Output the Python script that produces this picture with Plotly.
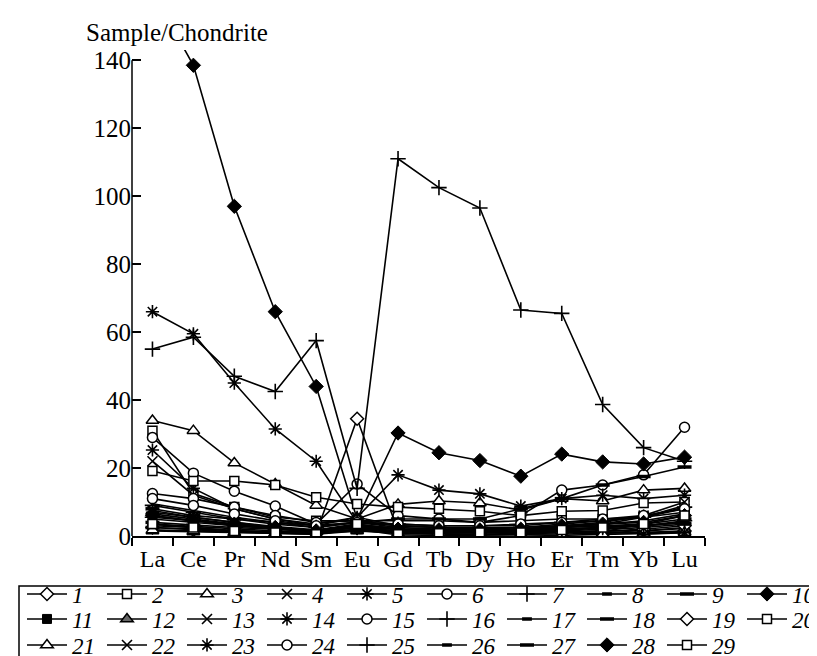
import plotly.graph_objects as go

elements = ["La", "Ce", "Pr", "Nd", "Sm", "Eu", "Gd", "Tb", "Dy", "Ho", "Er", "Tm", "Yb", "Lu"]

s1 = [2.5, 1.8, 1.2, 1.0, 0.8, 34.5, 1.5, 1.2, 1.0, 1.2, 1.0, 1.2, 1.0, 1.5]
s2 = [31, 12.5, 8.5, 5.5, 4.5, 4.5, 4.5, 4.5, 4.0, 4.5, 5.0, 5.0, 5.5, 7.0]
s3 = [34, 31, 21.5, 15.3, 9, 5, 9.3, 10.3, 9.7, 7.6, 11, 10.3, 13.5, 14]
s4 = [22, 12, 8, 5, 3.5, 5.5, 3.0, 2.5, 2.5, 2.5, 3.5, 4.5, 5.5, 8]
s5 = [66, 59.5, 45, 31.5, 22, 4, 3, 2.5, 2.0, 2.0, 2.5, 3.0, 3.0, 4.0]
s6 = [29, 18.5, 13.2, 8.8, 3.5, 15.3, 6, 5, 4, 6, 13.5, 15, 18, 32]
s7 = [55, 58.5, 47, 42.5, 57.5, 14, 111, 102.5, 96.5, 66.5, 65.5, 38.7, 26, 22]
s8 = [5, 4, 3, 2.5, 1.5, 3, 2, 1.5, 1.5, 1.5, 2, 2.5, 3, 4]
s9 = [8, 6, 5, 4, 3, 4, 5, 5, 5, 8, 11, 15, 17.5, 20.3]
s10 = [160, 138.5, 97, 66, 44, 5, 30.3, 24.5, 22.2, 17.6, 24.1, 21.8, 21.2, 23.2]
s11 = [3, 2.5, 1.5, 1.2, 0.8, 2, 1.2, 1.0, 1.0, 1.0, 1.2, 1.5, 1.5, 2.5]
s12 = [1.5, 1.2, 1.0, 0.8, 0.5, 1.5, 0.8, 0.6, 0.5, 0.5, 0.6, 0.8, 0.8, 1.2]
s13 = [7.5, 5.5, 4, 2.5, 1.5, 3.5, 2, 1.5, 1.5, 1.5, 2.5, 3.5, 5.5, 9]
s14 = [25.3, 14, 8, 5, 3, 5.5, 18, 13.5, 12.4, 8.8, 11, 12, 11, 12]
s15 = [12.5, 11, 8.5, 6, 4, 4.5, 3, 2.5, 2, 2.5, 3, 3.5, 1.5, 2.2]
s16 = [9, 7, 5, 3.5, 2.5, 4, 3.5, 3, 3, 3, 4, 4.5, 5.5, 8.5]
s17 = [6, 4.5, 3.5, 2.5, 1.5, 3, 2.5, 2, 2, 2, 3, 3.5, 4.5, 6.5]
s18 = [4, 3.2, 2.5, 2, 1.2, 2.5, 2, 1.8, 1.8, 1.8, 2.5, 3, 3.5, 5]
s19 = [6.5, 5, 3.5, 2.5, 1.5, 2.5, 1, 0.5, 0.3, 0.5, 1, 1.5, 2, 3]
s20 = [19.1, 16.2, 16.2, 15, 11.4, 9.4, 8.5, 8, 7.3, 6, 7.3, 7.5, 9.7, 10]
s21 = [1.8, 1.5, 1, 0.8, 0.5, 2, 0.3, 0.2, 0.3, 0.3, 0.2, 0.5, 0.8, 1.0]
s22 = [9.5, 7.5, 5.5, 4, 2.5, 4, 2.5, 2, 2, 2, 3, 4, 6, 10]
s23 = [7, 5.5, 4, 2.8, 1.8, 3.5, 2, 1.5, 1.2, 0.5, 1.5, 2.5, 0.5, 1.0]
s24 = [11, 9, 6.5, 4.5, 3, 4, 3.5, 3, 3, 3.5, 4, 5, 6, 8]
s25 = [5.5, 4.5, 3, 2, 1.2, 2.5, 1.5, 1.2, 1.2, 1.2, 2, 2.5, 3, 4.5]
s26 = [3.5, 2.8, 2, 1.5, 1, 2, 1.5, 1.2, 1.2, 1.2, 2, 2.5, 3, 4]
s27 = [2.5, 2, 1.5, 1.2, 0.8, 1.5, 1.2, 1, 1, 1, 1.5, 2, 2.5, 3.5]
s28 = [6, 4.5, 3.5, 2.5, 1.5, 2.5, 2, 1.8, 1.8, 2, 3, 3.5, 4, 6]
s29 = [3.5, 2.5, 1.5, 1, 0.5, 3.5, 0.5, 0.8, 1, 1, 1.8, 2.5, 3.5, 6]

series = [s1, s2, s3, s4, s5, s6, s7, s8, s9, s10, s11, s12, s13, s14, s15,
          s16, s17, s18, s19, s20, s21, s22, s23, s24, s25, s26, s27, s28, s29]
names = [str(i + 1) for i in range(len(series))]

yticks = [0, 20, 40, 60, 80, 100, 120, 140]

# marker styles
OD = dict(symbol="diamond", size=10, color="white", line=dict(color="black", width=1.5))
OS = dict(symbol="square", size=9, color="white", line=dict(color="black", width=1.5))
OT = dict(symbol="triangle-up", size=11, color="white", line=dict(color="black", width=1.5))
XX = dict(symbol="x-thin", size=10, color="black", line=dict(color="black", width=1.6))
AS = dict(symbol="asterisk", size=11, color="black", line=dict(color="black", width=1.6))
OC = dict(symbol="circle", size=10, color="white", line=dict(color="black", width=1.5))
PL = dict(symbol="cross-thin", size=11, color="black", line=dict(color="black", width=1.6))
SD = dict(symbol="line-ew", size=7, color="black", line=dict(color="black", width=3.5))
LD = dict(symbol="line-ew", size=10, color="black", line=dict(color="black", width=3.5))
FD = dict(symbol="diamond", size=11, color="black", line=dict(color="black", width=1))
FS = dict(symbol="square", size=9, color="black", line=dict(color="black", width=1))
FT = dict(symbol="triangle-up", size=11, color="#666666", line=dict(color="black", width=1.5))

markers = [OD, OS, OT, XX, AS, OC, PL, SD, LD, FD,
           FS, FT, XX, AS, OC, PL, SD, LD, OD, OS,
           OT, XX, AS, OC, PL, SD, LD, FD, OS]

fig = go.Figure()
for i, (vals, nm, mk) in enumerate(zip(series, names, markers)):
    lg = "legend" if i < 10 else ("legend2" if i < 20 else "legend3")
    fig.add_trace(go.Scatter(
        x=elements, y=vals, name=nm, mode="lines+markers",
        line=dict(color="black", width=1.6),
        marker=mk, legend=lg,
    ))

W, H = 817, 656
ml, mr, mt, mb = 124, 0, 42, 128
pw = W - ml - mr
ph = H - mt - mb

def px_x(px):
    return (px - ml) / pw

def px_y(py):
    return (H - mb - py) / ph

legend_common = dict(
    orientation="h", xanchor="left", yanchor="middle",
    font=dict(family="Liberation Serif", size=23, color="black", style="italic"),
    itemwidth=40, entrywidth=25, entrywidthmode="pixels",
    bgcolor="rgba(0,0,0,0)", borderwidth=0, tracegroupgap=0,
)

fig.update_layout(
    width=W, height=H,
    margin=dict(l=ml, r=mr, t=mt, b=mb, autoexpand=False),
    paper_bgcolor="white", plot_bgcolor="white",
    font=dict(family="Liberation Serif", color="black"),
    showlegend=True,
    legend=dict(legend_common, x=px_x(14), y=px_y(586)),
    legend2=dict(legend_common, x=px_x(14), y=px_y(611)),
    legend3=dict(legend_common, x=px_x(14), y=px_y(637)),
    xaxis=dict(
        domain=[0, (697 - ml) / pw],
        type="category", categoryorder="array", categoryarray=elements,
        range=[-0.5, len(elements) - 0.5],
        showline=True, linecolor="black", linewidth=1.5,
        ticks="outside", tickson="boundaries", ticklen=8, tickwidth=1.5, tickcolor="black",
        tickangle=0,
        tickfont=dict(family="Liberation Serif", size=24, color="black"),
        showgrid=False, zeroline=False,
    ),
    yaxis=dict(
        range=[0, 143],
        tickvals=yticks, ticktext=[str(v) for v in yticks],
        showline=False,
        ticks="inside", ticklen=9, tickwidth=1.5, tickcolor="black",
        tickfont=dict(family="Liberation Serif", size=25, color="black"),
        showgrid=False, zeroline=False,
    ),
    annotations=[dict(
        text="Sample/Chondrite", xref="paper", yref="paper",
        x=px_x(76), y=px_y(24), xanchor="left", yanchor="middle",
        showarrow=False, font=dict(family="Liberation Serif", size=25, color="black"),
    )],
    shapes=[
        dict(type="line", xref="paper", yref="y", x0=0, x1=0, y0=0, y1=140,
             line=dict(color="black", width=1.5)),
        dict(type="rect", xref="paper", yref="paper",
             x0=px_x(11), x1=px_x(840), y0=px_y(578), y1=px_y(700),
             line=dict(color="black", width=1.5), fillcolor="rgba(0,0,0,0)"),
    ],
)

fig.write_html("out.html")
